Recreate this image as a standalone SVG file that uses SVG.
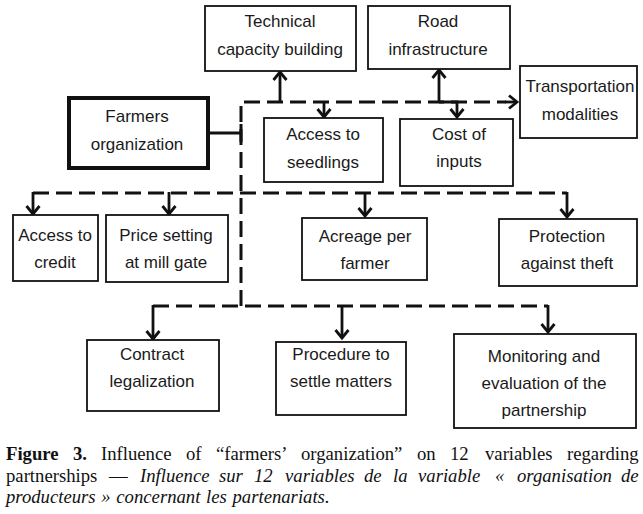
<svg xmlns="http://www.w3.org/2000/svg" width="643" height="514" viewBox="0 0 643 514">
<style>
.box{fill:#fff;stroke:#111;stroke-width:1.8}
.thick{fill:#fff;stroke:#111;stroke-width:4}
.t{font-family:"Liberation Sans",Arial,sans-serif;font-size:17px;fill:#1a1a1a;text-anchor:middle}
.dash{fill:none;stroke:#111;stroke-width:3;stroke-dasharray:16 7}
.solid{fill:none;stroke:#111;stroke-width:3}
.arr{fill:none;stroke:#111;stroke-width:2.8;marker-end:url(#ah)}
.cap{font-family:"Liberation Serif","Times New Roman",serif;font-size:18.7px;fill:#111}
</style>
<defs>
<marker id="ah" markerUnits="userSpaceOnUse" markerWidth="20" markerHeight="20" refX="0" refY="0" viewBox="-10 -10 20 20" orient="auto">
<path d="M-8,-6.5 L0,0 L-8,6.5" fill="none" stroke="#111" stroke-width="2.8"/>
</marker>
</defs>
<rect width="643" height="514" fill="#fff"/>
<g id="connectors">
<path class="solid" d="M208,133 H241" stroke-width="3.5"/>
<path class="solid" d="M241,124 V142"/>
<path class="dash" d="M241,306 V102 H506"/>
<path class="arr" d="M505,102 H517"/>
<path class="arr" d="M280,102 V72"/>
<path class="arr" d="M324,102 V117"/>
<path class="arr" d="M439,102 V70"/>
<path class="arr" d="M439,102 H457 V117"/>
<path class="dash" d="M33,193 H567"/>
<path class="arr" d="M33,192 V214"/>
<path class="arr" d="M169,192 V214"/>
<path class="arr" d="M365,192 V216"/>
<path class="arr" d="M567,192 V217"/>
<path class="dash" d="M153,306 H548"/>
<path class="arr" d="M153,305 V339"/>
<path class="arr" d="M342,305 V338"/>
<path class="arr" d="M548,305 V332"/>
</g>
<g id="tech"><rect class="box" x="205" y="6" width="151" height="65"/><text class="t" x="280" y="27">Technical</text><text class="t" x="280" y="55">capacity building</text></g>
<g id="road"><rect class="box" x="368" y="6" width="142" height="63"/><text class="t" x="438" y="27">Road</text><text class="t" x="438" y="55">infrastructure</text></g>
<g id="transport"><rect class="box" x="520" y="66" width="117" height="72"/><text class="t" x="580" y="92">Transportation</text><text class="t" x="580" y="120">modalities</text></g>
<g id="farmers"><rect class="thick" x="69" y="98" width="139" height="70"/><text class="t" x="137" y="122">Farmers</text><text class="t" x="137" y="150">organization</text></g>
<g id="seedlings"><rect class="box" x="264" y="118" width="119" height="64"/><text class="t" x="323" y="140">Access to</text><text class="t" x="323" y="168">seedlings</text></g>
<g id="cost"><rect class="box" x="400" y="119" width="113" height="67"/><text class="t" x="459" y="140">Cost of</text><text class="t" x="459" y="167">inputs</text></g>
<g id="credit"><rect class="box" x="13" y="215" width="85" height="66"/><text class="t" x="55" y="241">Access to</text><text class="t" x="55" y="268">credit</text></g>
<g id="price"><rect class="box" x="106" y="215" width="122" height="67"/><text class="t" x="166" y="241">Price setting</text><text class="t" x="166" y="268">at mill gate</text></g>
<g id="acreage"><rect class="box" x="302" y="218" width="125" height="62"/><text class="t" x="365" y="242">Acreage per</text><text class="t" x="365" y="269">farmer</text></g>
<g id="protection"><rect class="box" x="499" y="219" width="138" height="67"/><text class="t" x="567" y="242">Protection</text><text class="t" x="567" y="269">against theft</text></g>
<g id="contract"><rect class="box" x="87" y="340" width="132" height="71"/><text class="t" x="152" y="360">Contract</text><text class="t" x="152" y="387">legalization</text></g>
<g id="procedure"><rect class="box" x="276" y="342" width="130" height="73"/><text class="t" x="341" y="360">Procedure to</text><text class="t" x="341" y="387">settle matters</text></g>
<g id="monitoring"><rect class="box" x="454" y="334" width="182" height="94"/><text class="t" x="544" y="362">Monitoring and</text><text class="t" x="544" y="389">evaluation of the</text><text class="t" x="544" y="416">partnership</text></g>
<g id="caption">
<text class="cap" y="460"><tspan x="6" font-weight="bold">Figure</tspan><tspan x="73" font-weight="bold">3.</tspan><tspan x="101">Influence</tspan><tspan x="186">of</tspan><tspan x="216">“farmers’</tspan><tspan x="301">organization”</tspan><tspan x="417">on</tspan><tspan x="450">12</tspan><tspan x="485">variables</tspan><tspan x="567">regarding</tspan></text>
<text class="cap" y="482"><tspan x="6">partnerships</tspan><tspan x="109">—</tspan><tspan x="140" font-style="italic">Influence</tspan><tspan x="219" font-style="italic">sur</tspan><tspan x="254" font-style="italic">12</tspan><tspan x="285" font-style="italic">variables</tspan><tspan x="364" font-style="italic">de</tspan><tspan x="393" font-style="italic">la</tspan><tspan x="418" font-style="italic">variable</tspan><tspan x="495" font-style="italic">«</tspan><tspan x="517" font-style="italic">organisation</tspan><tspan x="621" font-style="italic">de</tspan></text>
<text class="cap" x="6" y="503" font-style="italic" word-spacing="1">producteurs » concernant les partenariats.</text>
</g>
</svg>
